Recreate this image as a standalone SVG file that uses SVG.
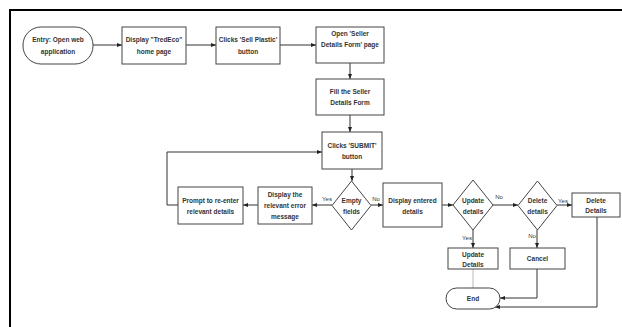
<svg xmlns="http://www.w3.org/2000/svg" width="622" height="327" viewBox="0 0 622 327">
<style>
.b{fill:#fff;stroke:#444;stroke-width:1}
.t{font-family:"Liberation Sans",Arial,sans-serif;font-size:6.5px;font-weight:bold;fill:#333;text-anchor:middle}
.l{font-family:"Liberation Sans",Arial,sans-serif;font-size:6px;fill:#333;text-anchor:middle}
.c{fill:none;stroke:#333;stroke-width:1}
.f{fill:none;stroke:#000;stroke-width:2}
</style>
<defs>
<marker id="a" viewBox="0 0 10 10" refX="10" refY="5" markerWidth="5" markerHeight="5" orient="auto" markerUnits="userSpaceOnUse">
<path d="M0,1 L10,5 L0,9 Z" fill="#222"/>
</marker>
</defs>
<rect width="622" height="327" fill="#fff"/>
<path class="f" d="M10,327 V10 H622"/>
<g id="connectors">
<path class="c" d="M93,45 H122" marker-end="url(#a)"/>
<path class="c" d="M186,45 H216" marker-end="url(#a)"/>
<path class="c" d="M280,45 H316" marker-end="url(#a)"/>
<path class="c" d="M350,63 V79" marker-end="url(#a)"/>
<path class="c" d="M350,115 V132" marker-end="url(#a)"/>
<path class="c" d="M352,169 V181" marker-end="url(#a)"/>
<path class="c" d="M332,205 H312" marker-end="url(#a)"/>
<path class="c" d="M258,205 H243" marker-end="url(#a)"/>
<path class="c" d="M178,205 H167 V152 H322" marker-end="url(#a)"/>
<path class="c" d="M371,205 H383" marker-end="url(#a)"/>
<path class="c" d="M442,205 H453" marker-end="url(#a)"/>
<path class="c" d="M493,205 H518" marker-end="url(#a)"/>
<path class="c" d="M557,205 H572" marker-end="url(#a)"/>
<path class="c" d="M473,230 V248" marker-end="url(#a)"/>
<path class="c" d="M537,230 V248" marker-end="url(#a)"/>
<path d="M473,269 V288" fill="none" stroke="#bbb" stroke-width="1"/>
<path class="c" d="M537,269 V298 H500" marker-end="url(#a)"/>
<path class="c" d="M597,217 V307 H495" marker-end="url(#a)"/>
<text class="l" x="327" y="201">Yes</text>
<text class="l" x="376" y="201">No</text>
<text class="l" x="499" y="199">No</text>
<text class="l" x="563" y="203">Yes</text>
<text class="l" x="467" y="240">Yes</text>
<text class="l" x="532" y="238">No</text>
</g>
<g id="entry"><rect class="b" x="23" y="27" width="70" height="37" rx="18"/><text class="t" x="58" y="42">Entry: Open web</text><text class="t" x="58" y="54">application</text></g>
<g id="home"><rect class="b" x="122" y="27" width="64" height="37"/><text class="t" x="154" y="42">Display "TredEco"</text><text class="t" x="154" y="54">home page</text></g>
<g id="sell"><rect class="b" x="216" y="27" width="64" height="37"/><text class="t" x="248" y="42">Clicks 'Sell Plastic'</text><text class="t" x="248" y="54">button</text></g>
<g id="openform"><rect class="b" x="316" y="27" width="68" height="36"/><text class="t" x="350" y="36">Open 'Seller</text><text class="t" x="350" y="47">Details Form' page</text></g>
<g id="fill"><rect class="b" x="316" y="79" width="68" height="36"/><text class="t" x="350" y="94">Fill the Seller</text><text class="t" x="350" y="105">Details Form</text></g>
<g id="submit"><rect class="b" x="322" y="132" width="60" height="37"/><text class="t" x="352" y="148">Clicks 'SUBMIT'</text><text class="t" x="352" y="159">button</text></g>
<g id="empty"><path class="b" d="M351.5,181 L371,205.5 L351.5,230 L332,205.5 Z"/><text class="t" x="351.5" y="203">Empty</text><text class="t" x="351.5" y="214">fields</text></g>
<g id="error"><rect class="b" x="258" y="187" width="54" height="37"/><text class="t" x="285" y="197">Display the</text><text class="t" x="285" y="208">relevant error</text><text class="t" x="285" y="219">message</text></g>
<g id="prompt"><rect class="b" x="178" y="187" width="65" height="37"/><text class="t" x="210.5" y="203">Prompt to re-enter</text><text class="t" x="210.5" y="214">relevant details</text></g>
<g id="display"><rect class="b" x="383" y="183" width="59" height="44"/><text class="t" x="412.5" y="203">Display entered</text><text class="t" x="412.5" y="214">details</text></g>
<g id="update"><path class="b" d="M473,180 L493,205 L473,230 L453,205 Z"/><text class="t" x="473" y="203">Update</text><text class="t" x="473" y="214">details</text></g>
<g id="delete"><path class="b" d="M537.5,181 L557,205.5 L537.5,230 L518,205.5 Z"/><text class="t" x="537.5" y="203">Delete</text><text class="t" x="537.5" y="214">details</text></g>
<g id="deletebox"><rect class="b" x="572" y="193" width="48" height="24"/><text class="t" x="596" y="203">Delete</text><text class="t" x="596" y="213">Details</text></g>
<g id="updatebox"><rect class="b" x="448" y="248" width="50" height="21"/><text class="t" x="473" y="257">Update</text><text class="t" x="473" y="267">Details</text></g>
<g id="cancel"><rect class="b" x="510" y="248" width="55" height="21"/><text class="t" x="537.5" y="261">Cancel</text></g>
<g id="end"><rect class="b" x="446" y="288" width="54" height="21" rx="10.5"/><text class="t" x="473" y="301">End</text></g>
</svg>
